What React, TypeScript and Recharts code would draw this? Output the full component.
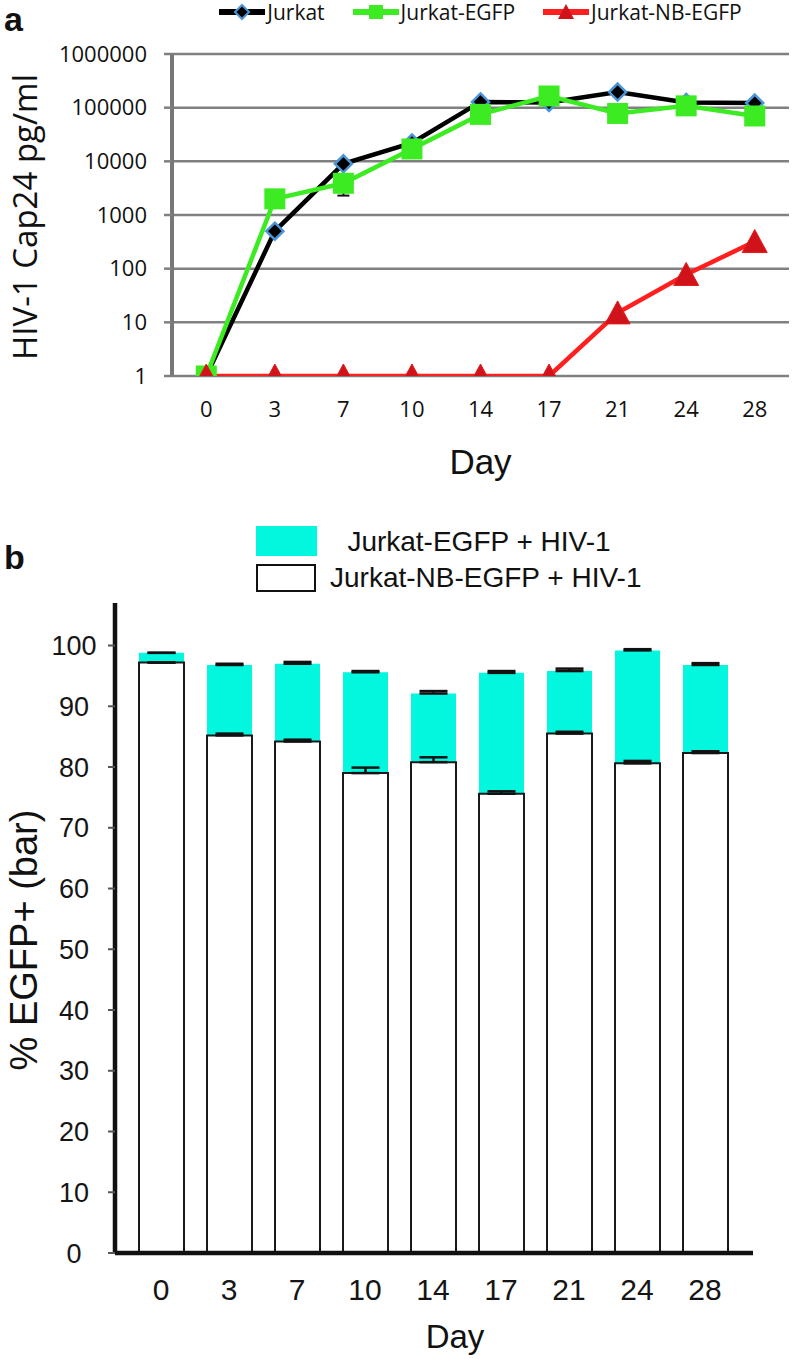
import React from 'react';
import {
  LineChart,
  ComposedChart,
  Line,
  Bar,
  XAxis,
  YAxis,
  CartesianGrid,
  ErrorBar,
  Legend,
  Label,
} from 'recharts';

// ---------- Panel a data ----------
const days = ['0', '3', '7', '10', '14', '17', '21', '24', '28'];
const topSeriesNames = ['Jurkat', 'Jurkat-EGFP', 'Jurkat-NB-EGFP'];
const jurkat = [1, 500, 9000, 22000, 128000, 125000, 195000, 125000, 122000];
const jurkatEgfp = [1, 2000, 3900, 17000, 75000, 165000, 78000, 108000, 70000];
const jurkatEgfpErr = [0, 0, 1600, 0, 0, 0, 0, 0, 0];
const jurkatNbEgfp = [1, 1, 1, 1, 1, 1, 15, 78, 320];
const logTicks = [1, 10, 100, 1000, 10000, 100000, 1000000];

// ---------- Panel b data ----------
const bottomSeriesNames = ['Jurkat-EGFP + HIV-1', 'Jurkat-NB-EGFP + HIV-1'];
const egfpPct = [98.8, 96.8, 97.0, 95.6, 92.1, 95.5, 95.8, 99.2, 96.8];
const egfpPctErr = [0, 0.2, 0.3, 0.2, 0.4, 0.3, 0.4, 0.2, 0.3];
const nbPct = [97.2, 85.2, 84.2, 79.0, 80.8, 75.6, 85.5, 80.6, 82.3];
const nbPctErr = [0, 0.3, 0.3, 0.9, 0.8, 0.4, 0.3, 0.4, 0.3];
const pctTicks = [0, 10, 20, 30, 40, 50, 60, 70, 80, 90, 100];

const BLACK = '#000000';
const BLUE = '#4a95d8';
const GREEN = '#3ceb22';
const RED = '#ff1f1f';
const RED_DARK = '#d0121a';
const CYAN = '#03f7df';
const GRID = '#808080';

const topData = days.map((d, i) => ({
  idx: i,
  day: d,
  jurkat: jurkat[i],
  egfp: jurkatEgfp[i],
  egfpErr: jurkatEgfpErr[i],
  nb: jurkatNbEgfp[i],
}));
const markTicks = [-0.5, ...days.map((_, i) => i + 0.5)];
const idxTicks = days.map((_, i) => i);

const bottomData = days.map((d, i) => ({
  day: d,
  egfp: egfpPct[i],
  egfpErr: [0, egfpPctErr[i]],
  nb: nbPct[i],
  nbErr: [0, nbPctErr[i]],
}));

// ---------- markers ----------
const diamondDot = (props: any) => {
  const { cx, cy, index } = props;
  if (cx == null || cy == null) return <g key={`dj${index}`} />;
  const r = 8.5;
  return (
    <path
      key={`dj${index}`}
      d={`M${cx},${cy - r} L${cx + r},${cy} L${cx},${cy + r} L${cx - r},${cy} Z`}
      fill={BLACK}
      stroke={BLUE}
      strokeWidth={2.5}
    />
  );
};
const squareDot = (props: any) => {
  const { cx, cy, index } = props;
  if (cx == null || cy == null) return <g key={`sq${index}`} />;
  const h = 10.5;
  return <rect key={`sq${index}`} x={cx - h} y={cy - h} width={2 * h} height={2 * h} fill={GREEN} />;
};
const triangleDot = (props: any) => {
  const { cx, cy, index } = props;
  if (cx == null || cy == null) return <g key={`tr${index}`} />;
  return (
    <path
      key={`tr${index}`}
      d={`M${cx},${cy - 12} L${cx + 12.5},${cy + 11} L${cx - 12.5},${cy + 11} Z`}
      fill={RED_DARK}
      stroke="#e41b1b"
      strokeWidth={1}
    />
  );
};

const legendSymbol = (i: number) => {
  const colors = [BLACK, GREEN, RED];
  return (
    <svg width={46} height={20} style={{ display: 'block' }}>
      <line x1={0} y1={10} x2={46} y2={10} stroke={colors[i]} strokeWidth={6} />
      {i === 0 && (
        <path d="M23,3 L30,10 L23,17 L16,10 Z" fill={BLACK} stroke={BLUE} strokeWidth={2} />
      )}
      {i === 1 && <rect x={16} y={3} width={14} height={14} fill={GREEN} />}
      {i === 2 && <path d="M23,2 L31,17 L15,17 Z" fill={RED_DARK} />}
    </svg>
  );
};

const TopLegend = () => (
  <div
    style={{
      display: 'flex',
      justifyContent: 'center',
      alignItems: 'center',
      height: 22,
      fontFamily: '"Open Sans", sans-serif',
      fontSize: 21,
      color: '#111',
      whiteSpace: 'nowrap',
    }}
  >
    {topSeriesNames.map((n, i) => (
      <div key={n} style={{ display: 'flex', alignItems: 'center', marginRight: i < 2 ? 28 : 0 }}>
        {legendSymbol(i)}
        <span style={{ marginLeft: 2, lineHeight: '22px' }}>{n}</span>
      </div>
    ))}
  </div>
);

const BottomLegend = () => (
  <div
    style={{
      position: 'relative',
      width: 792,
      height: 70,
      fontFamily: '"Liberation Sans", Arial, sans-serif',
      fontSize: 28,
      color: '#111',
      whiteSpace: 'nowrap',
    }}
  >
    <div style={{ position: 'absolute', left: 256, top: 0, width: 61, height: 30, background: CYAN }} />
    <div style={{ position: 'absolute', left: 330, top: 1, width: 298, textAlign: 'center', lineHeight: '30px' }}>
      {bottomSeriesNames[0]}
    </div>
    <div
      style={{
        position: 'absolute',
        left: 256,
        top: 38,
        width: 56,
        height: 24,
        border: '2.5px solid #111',
        background: '#fff',
      }}
    />
    <div style={{ position: 'absolute', left: 330, top: 37, width: 298, textAlign: 'center', lineHeight: '30px' }}>
      {bottomSeriesNames[1]}
    </div>
  </div>
);

const topYLabel = (props: any) => {
  const { viewBox } = props;
  const x = viewBox.x + 37;
  const y = viewBox.y + viewBox.height / 2 + 2;
  return (
    <text
      x={x}
      y={y}
      transform={`rotate(-90, ${x}, ${y})`}
      textAnchor="middle"
      fontFamily='"Open Sans", sans-serif'
      fontSize={33}
      fill="#111"
    >
      HIV-1 Cap24 pg/ml
    </text>
  );
};
const topXLabel = (props: any) => {
  const { viewBox } = props;
  return (
    <text
      x={viewBox.x + viewBox.width / 2}
      y={viewBox.y + 98}
      textAnchor="middle"
      fontFamily='"Liberation Sans", Arial, sans-serif'
      fontSize={35}
      fill="#111"
    >
      Day
    </text>
  );
};
const bottomYLabel = (props: any) => {
  const { viewBox } = props;
  const x = viewBox.x + 37;
  const y = viewBox.y + viewBox.height / 2 + 12;
  return (
    <text
      x={x}
      y={y}
      transform={`rotate(-90, ${x}, ${y})`}
      textAnchor="middle"
      fontFamily='"Liberation Sans", Arial, sans-serif'
      fontSize={38}
      fill="#111"
    >
      % EGFP+ (bar)
    </text>
  );
};
const bottomXLabel = (props: any) => {
  const { viewBox } = props;
  return (
    <text
      x={viewBox.x + viewBox.width / 2 + 21}
      y={viewBox.y + 95}
      textAnchor="middle"
      fontFamily='"Liberation Sans", Arial, sans-serif'
      fontSize={33}
      fill="#111"
    >
      Day
    </text>
  );
};
const bottomYTick = (props: any) => {
  const { x, y, payload } = props;
  return (
    <text
      x={x}
      y={y}
      dy="0.355em"
      textAnchor="middle"
      fontFamily='"Liberation Sans", Arial, sans-serif'
      fontSize={27}
      fill="#151515"
    >
      {payload.value}
    </text>
  );
};

const panelLabel: React.CSSProperties = {
  position: 'absolute',
  left: 4,
  fontFamily: '"Liberation Sans", Arial, sans-serif',
  fontWeight: 'bold',
  fontSize: 34,
  lineHeight: '38px',
  color: '#111',
};

export default function App() {
  return (
    <div style={{ position: 'absolute', left: 0, top: 0, width: 792, height: 1359, background: '#fff' }}>
      <div style={{ ...panelLabel, top: 0 }}>a</div>
      <div style={{ ...panelLabel, top: 538 }}>b</div>

      <div style={{ position: 'absolute', left: 0, top: 0 }}>
        <LineChart width={792} height={490} data={topData} margin={{ top: 54, right: 3, bottom: 0, left: 0 }}>
          <CartesianGrid vertical={false} stroke={GRID} strokeWidth={2.5} />
          <XAxis
            xAxisId="tb"
            orientation="top"
            type="number"
            domain={[0, 1]}
            height={0}
            axisLine={{ stroke: BLACK, strokeWidth: 4.5 }}
            tick={false}
            tickLine={false}
          />
          <XAxis
            xAxisId="marks"
            type="number"
            dataKey="idx"
            domain={[-0.5, 8.5]}
            ticks={markTicks}
            interval={0}
            height={0}
            axisLine={{ stroke: '#222', strokeWidth: 3.5 }}
            tickLine={{ stroke: GRID, strokeWidth: 2.5 }}
            tickSize={6}
            tickFormatter={() => ''}
          />
          <XAxis
            type="number"
            dataKey="idx"
            domain={[-0.5, 8.5]}
            ticks={idxTicks}
            interval={0}
            height={114}
            axisLine={false}
            tickLine={false}
            tickSize={0}
            tickMargin={25}
            tickFormatter={(v: number) => days[v]}
            tick={{ fontFamily: '"Open Sans", sans-serif', fontSize: 22, fill: '#111' }}
          >
            <Label content={topXLabel} />
          </XAxis>
          <YAxis
            scale="log"
            domain={[1, 1000000]}
            ticks={logTicks}
            interval={0}
            allowDataOverflow
            width={172}
            axisLine={{ stroke: '#777', strokeWidth: 4 }}
            tickLine={{ stroke: GRID, strokeWidth: 2.5 }}
            tickSize={8}
            tickMargin={17}
            tick={{ fontFamily: '"Open Sans", sans-serif', fontSize: 22, fill: '#111' }}
          >
            <Label content={topYLabel} />
          </YAxis>
          <YAxis
            yAxisId="rb"
            orientation="right"
            type="number"
            domain={[0, 1]}
            width={0}
            axisLine={{ stroke: BLACK, strokeWidth: 4 }}
            tick={false}
            tickLine={false}
          />
          <Legend
            layout="horizontal"
            verticalAlign="middle"
            align="center"
            wrapperStyle={{ top: 1, left: 172, width: 617, height: 22 }}
            content={TopLegend}
          />
          <Line
            dataKey="jurkat"
            stroke={BLACK}
            strokeWidth={4.5}
            dot={diamondDot}
            activeDot={false}
            isAnimationActive={false}
          />
          <Line
            dataKey="egfp"
            stroke={GREEN}
            strokeWidth={4.5}
            dot={squareDot}
            activeDot={false}
            isAnimationActive={false}
          >
            <ErrorBar dataKey="egfpErr" width={6} strokeWidth={2} stroke="#111" direction="y" />
          </Line>
          <Line
            dataKey="nb"
            stroke={RED}
            strokeWidth={4.5}
            dot={triangleDot}
            activeDot={false}
            isAnimationActive={false}
          />
        </LineChart>
      </div>

      <div style={{ position: 'absolute', left: 0, top: 490 }}>
        <ComposedChart
          width={792}
          height={869}
          data={bottomData}
          margin={{ top: 113, right: 39, bottom: 0, left: 0 }}
          barGap={-45}
          barSize={45}
        >
          <XAxis
            xAxisId="tb"
            orientation="top"
            type="number"
            domain={[0, 1]}
            height={0}
            axisLine={{ stroke: '#111', strokeWidth: 4.5 }}
            tick={false}
            tickLine={false}
          />
          <XAxis
            dataKey="day"
            type="category"
            padding={{ left: 12, right: 14 }}
            height={106}
            interval={0}
            axisLine={{ stroke: '#111', strokeWidth: 4.5 }}
            tickLine={false}
            tickSize={0}
            tickMargin={26}
            tick={{ fontFamily: '"Liberation Sans", Arial, sans-serif', fontSize: 30, fill: '#151515' }}
          >
            <Label content={bottomXLabel} />
          </XAxis>
          <YAxis
            type="number"
            domain={[0, 107]}
            ticks={pctTicks}
            interval={0}
            allowDataOverflow
            width={115}
            axisLine={{ stroke: '#111', strokeWidth: 4.5 }}
            tickLine={{ stroke: '#555', strokeWidth: 2 }}
            tickSize={7}
            tickMargin={34}
            tick={bottomYTick}
          >
            <Label content={bottomYLabel} />
          </YAxis>
          <YAxis
            yAxisId="rb"
            orientation="right"
            type="number"
            domain={[0, 1]}
            width={0}
            axisLine={{ stroke: '#111', strokeWidth: 4.5 }}
            tick={false}
            tickLine={false}
          />
          <Legend
            layout="horizontal"
            verticalAlign="middle"
            align="center"
            wrapperStyle={{ top: 36, left: 0, width: 792, height: 70 }}
            content={BottomLegend}
          />
          <Bar dataKey="egfp" fill={CYAN} isAnimationActive={false}>
            <ErrorBar dataKey="egfpErr" width={14} strokeWidth={2.5} stroke="#111" direction="y" />
          </Bar>
          <Bar dataKey="nb" fill="#ffffff" stroke="#1a1a1a" strokeWidth={2} isAnimationActive={false}>
            <ErrorBar dataKey="nbErr" width={14} strokeWidth={2.5} stroke="#111" direction="y" />
          </Bar>
        </ComposedChart>
      </div>
    </div>
  );
}
